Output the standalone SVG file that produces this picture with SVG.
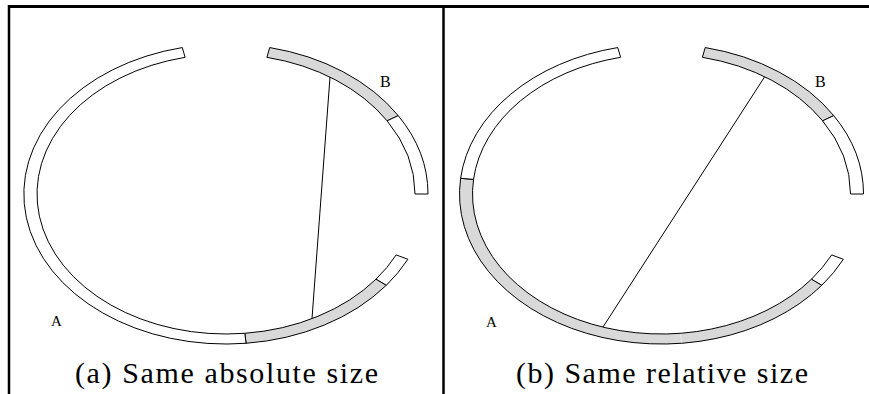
<svg xmlns="http://www.w3.org/2000/svg" width="869" height="394" viewBox="0 0 869 394">
<style>
.w{fill:#ffffff;stroke:#000;stroke-width:1;stroke-linejoin:round}
.g{fill:#d9d9d9;stroke:#000;stroke-width:1;stroke-linejoin:round}
.lbl{font-family:"Liberation Serif","Times New Roman",serif;fill:#000}
.cap{font-family:"Liberation Serif","Times New Roman",serif;font-size:30px;fill:#000}
.frame{stroke:#000;fill:none}
.edge{stroke:#000;stroke-width:1;fill:none}
</style>
<rect x="0" y="0" width="869" height="394" fill="#ffffff"/>
<g id="frame">
<line class="frame" x1="8" y1="6.5" x2="869" y2="6.5" stroke-width="3"/>
<line class="frame" x1="9" y1="5" x2="9" y2="394" stroke-width="2.5"/>
<line class="frame" x1="443.5" y1="5" x2="443.5" y2="394" stroke-width="2.5"/>
</g>
<g id="left-A">
<path class="w" d="M407.86,259.28 A202,150 0 0 1 386.27,285.32 L375.95,279.23 A189,140 0 0 0 396.16,254.93 Z"/>
<path class="g" d="M386.27,285.32 A202,150 0 0 1 246.06,343.27 L244.77,333.31 A189,140 0 0 0 375.95,279.23 Z"/>
<path class="w" d="M246.06,343.27 A202,150 0 0 1 182.29,47.55 L185.10,57.32 A189,140 0 0 0 244.77,333.31 Z"/>
<text class="lbl" x="51" y="326" font-size="15">A</text>
</g>
<g id="left-B">
<path class="g" d="M269.71,47.55 A202,150 0 0 1 398.23,115.62 L387.14,120.85 A189,140 0 0 0 266.90,57.32 Z"/>
<path class="w" d="M398.23,115.62 A202,150 0 0 1 428,194 L415,194 A189,140 0 0 0 387.14,120.85 Z"/>
<text class="lbl" x="380" y="87" font-size="16">B</text>
</g>
<g id="right-A">
<path class="w" d="M843.36,259.28 A202,150 0 0 1 821.77,285.32 L811.45,279.23 A189,140 0 0 0 831.66,254.93 Z"/>
<path class="g" d="M821.77,285.32 A202,150 0 0 1 460.61,178.32 L473.54,179.37 A189,140 0 0 0 811.45,279.23 Z"/>
<line x1="681.5" y1="342.6" x2="680.3" y2="334" stroke="#ebebeb" stroke-width="1"/>
<path class="w" d="M460.61,178.32 A202,150 0 0 1 617.79,47.55 L620.60,57.32 A189,140 0 0 0 473.54,179.37 Z"/>
<text class="lbl" x="486" y="327" font-size="15">A</text>
</g>
<g id="right-B">
<path class="g" d="M705.21,47.55 A202,150 0 0 1 833.73,115.62 L822.64,120.85 A189,140 0 0 0 702.40,57.32 Z"/>
<path class="w" d="M833.73,115.62 A202,150 0 0 1 863.5,194 L850.5,194 A189,140 0 0 0 822.64,120.85 Z"/>
<text class="lbl" x="815" y="87" font-size="16">B</text>
</g>
<g id="connectors">
<line class="edge" x1="330" y1="77" x2="312" y2="318.5"/>
<line class="edge" x1="764.5" y1="77" x2="603" y2="327"/>
</g>
<g id="captions">
<text class="cap" x="75" y="383" textLength="303" lengthAdjust="spacing">(a) Same absolute size</text>
<text class="cap" x="516" y="383" textLength="292" lengthAdjust="spacing">(b) Same relative size</text>
</g>
</svg>
